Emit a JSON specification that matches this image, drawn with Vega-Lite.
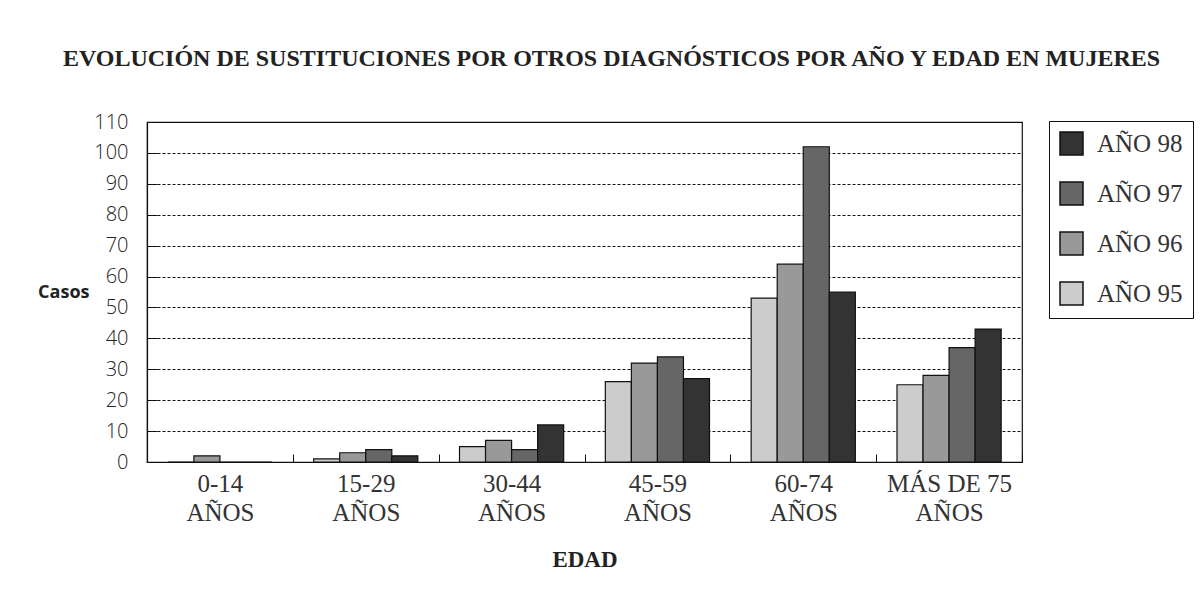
{
  "$schema": "https://vega.github.io/schema/vega-lite/v6.json",
  "autosize": "none",
  "width": 875,
  "height": 340,
  "padding": {"left": 147, "top": 122, "right": 181, "bottom": 144},
  "background": "white",
  "title": {
    "text": "EVOLUCIÓN DE SUSTITUCIONES POR OTROS DIAGNÓSTICOS POR AÑO Y EDAD EN MUJERES",
    "font": "Liberation Serif",
    "fontSize": 24,
    "fontWeight": "bold",
    "color": "#222222",
    "anchor": "middle",
    "dx": 27,
    "offset": 41
  },
  "data": {
    "values": [
      {"edad": "0-14 AÑOS", "anio": "AÑO 95", "casos": 0},
      {"edad": "0-14 AÑOS", "anio": "AÑO 96", "casos": 2},
      {"edad": "0-14 AÑOS", "anio": "AÑO 97", "casos": 0},
      {"edad": "0-14 AÑOS", "anio": "AÑO 98", "casos": 0},
      {"edad": "15-29 AÑOS", "anio": "AÑO 95", "casos": 1},
      {"edad": "15-29 AÑOS", "anio": "AÑO 96", "casos": 3},
      {"edad": "15-29 AÑOS", "anio": "AÑO 97", "casos": 4},
      {"edad": "15-29 AÑOS", "anio": "AÑO 98", "casos": 2},
      {"edad": "30-44 AÑOS", "anio": "AÑO 95", "casos": 5},
      {"edad": "30-44 AÑOS", "anio": "AÑO 96", "casos": 7},
      {"edad": "30-44 AÑOS", "anio": "AÑO 97", "casos": 4},
      {"edad": "30-44 AÑOS", "anio": "AÑO 98", "casos": 12},
      {"edad": "45-59 AÑOS", "anio": "AÑO 95", "casos": 26},
      {"edad": "45-59 AÑOS", "anio": "AÑO 96", "casos": 32},
      {"edad": "45-59 AÑOS", "anio": "AÑO 97", "casos": 34},
      {"edad": "45-59 AÑOS", "anio": "AÑO 98", "casos": 27},
      {"edad": "60-74 AÑOS", "anio": "AÑO 95", "casos": 53},
      {"edad": "60-74 AÑOS", "anio": "AÑO 96", "casos": 64},
      {"edad": "60-74 AÑOS", "anio": "AÑO 97", "casos": 102},
      {"edad": "60-74 AÑOS", "anio": "AÑO 98", "casos": 55},
      {"edad": "MÁS DE 75 AÑOS", "anio": "AÑO 95", "casos": 25},
      {"edad": "MÁS DE 75 AÑOS", "anio": "AÑO 96", "casos": 28},
      {"edad": "MÁS DE 75 AÑOS", "anio": "AÑO 97", "casos": 37},
      {"edad": "MÁS DE 75 AÑOS", "anio": "AÑO 98", "casos": 43}
    ]
  },
  "mark": {"type": "bar", "stroke": "#111111", "strokeWidth": 1.2},
  "encoding": {
    "x": {
      "field": "edad",
      "type": "nominal",
      "sort": null,
      "scale": {"paddingInner": 0, "paddingOuter": 0},
      "axis": {
        "title": "EDAD",
        "titleFont": "Liberation Serif",
        "titleFontSize": 23,
        "titleFontWeight": "bold",
        "titleColor": "#222222",
        "titlePadding": 23,
        "labelAngle": 0,
        "labelFont": "Liberation Serif",
        "labelFontSize": 25,
        "labelColor": "#333333",
        "labelLineHeight": 29,
        "labelPadding": 17,
        "labelExpr": "datum.label ? [replace(datum.label, ' AÑOS', ''), 'AÑOS'] : ''",
        "tickBand": "extent",
        "tickSize": -8,
        "tickColor": "#111111",
        "domainColor": "#111111",
        "grid": false
      }
    },
    "xOffset": {
      "field": "anio",
      "type": "nominal",
      "scale": {"domain": ["AÑO 95", "AÑO 96", "AÑO 97", "AÑO 98"], "paddingInner": 0, "paddingOuter": 0.8}
    },
    "y": {
      "field": "casos",
      "type": "quantitative",
      "scale": {"domain": [0, 110], "nice": false},
      "axis": {
        "title": "Casos",
        "titleAngle": 0,
        "titleAlign": "right",
        "titleBaseline": "middle",
        "titleY": 170,
        "titleX": -58,
        "titleFont": "Open Sans",
        "titleFontSize": 18,
        "titleFontWeight": "bold",
        "titleColor": "#222222",
        "values": [0, 10, 20, 30, 40, 50, 60, 70, 80, 90, 100, 110],
        "labelFont": "Open Sans",
        "labelFontSize": 20,
        "labelFontWeight": 300,
        "labelColor": "#222222",
        "labelPadding": 29,
        "tickSize": -10,
        "tickColor": "#111111",
        "domainColor": "#111111",
        "grid": true,
        "gridColor": "#111111",
        "gridDash": [3, 2],
        "gridWidth": 1
      }
    },
    "color": {
      "field": "anio",
      "type": "nominal",
      "scale": {
        "domain": ["AÑO 98", "AÑO 97", "AÑO 96", "AÑO 95"],
        "range": ["#333333", "#666666", "#999999", "#cccccc"]
      },
      "legend": {
        "title": null,
        "orient": "none",
        "legendX": 902,
        "legendY": -1,
        "strokeColor": "#111111",
        "padding": 10,
        "symbolType": "square",
        "symbolSize": 529,
        "symbolStrokeColor": "#111111",
        "symbolStrokeWidth": 1.5,
        "symbolOpacity": 1,
        "labelFont": "Liberation Serif",
        "labelFontSize": 25,
        "labelColor": "#333333",
        "labelOffset": 13,
        "rowPadding": 21,
        "labelLimit": 200
      }
    }
  },
  "config": {
    "view": {"stroke": "#111111", "strokeWidth": 1.2},
    "axis": {"domainWidth": 1.2}
  }
}
